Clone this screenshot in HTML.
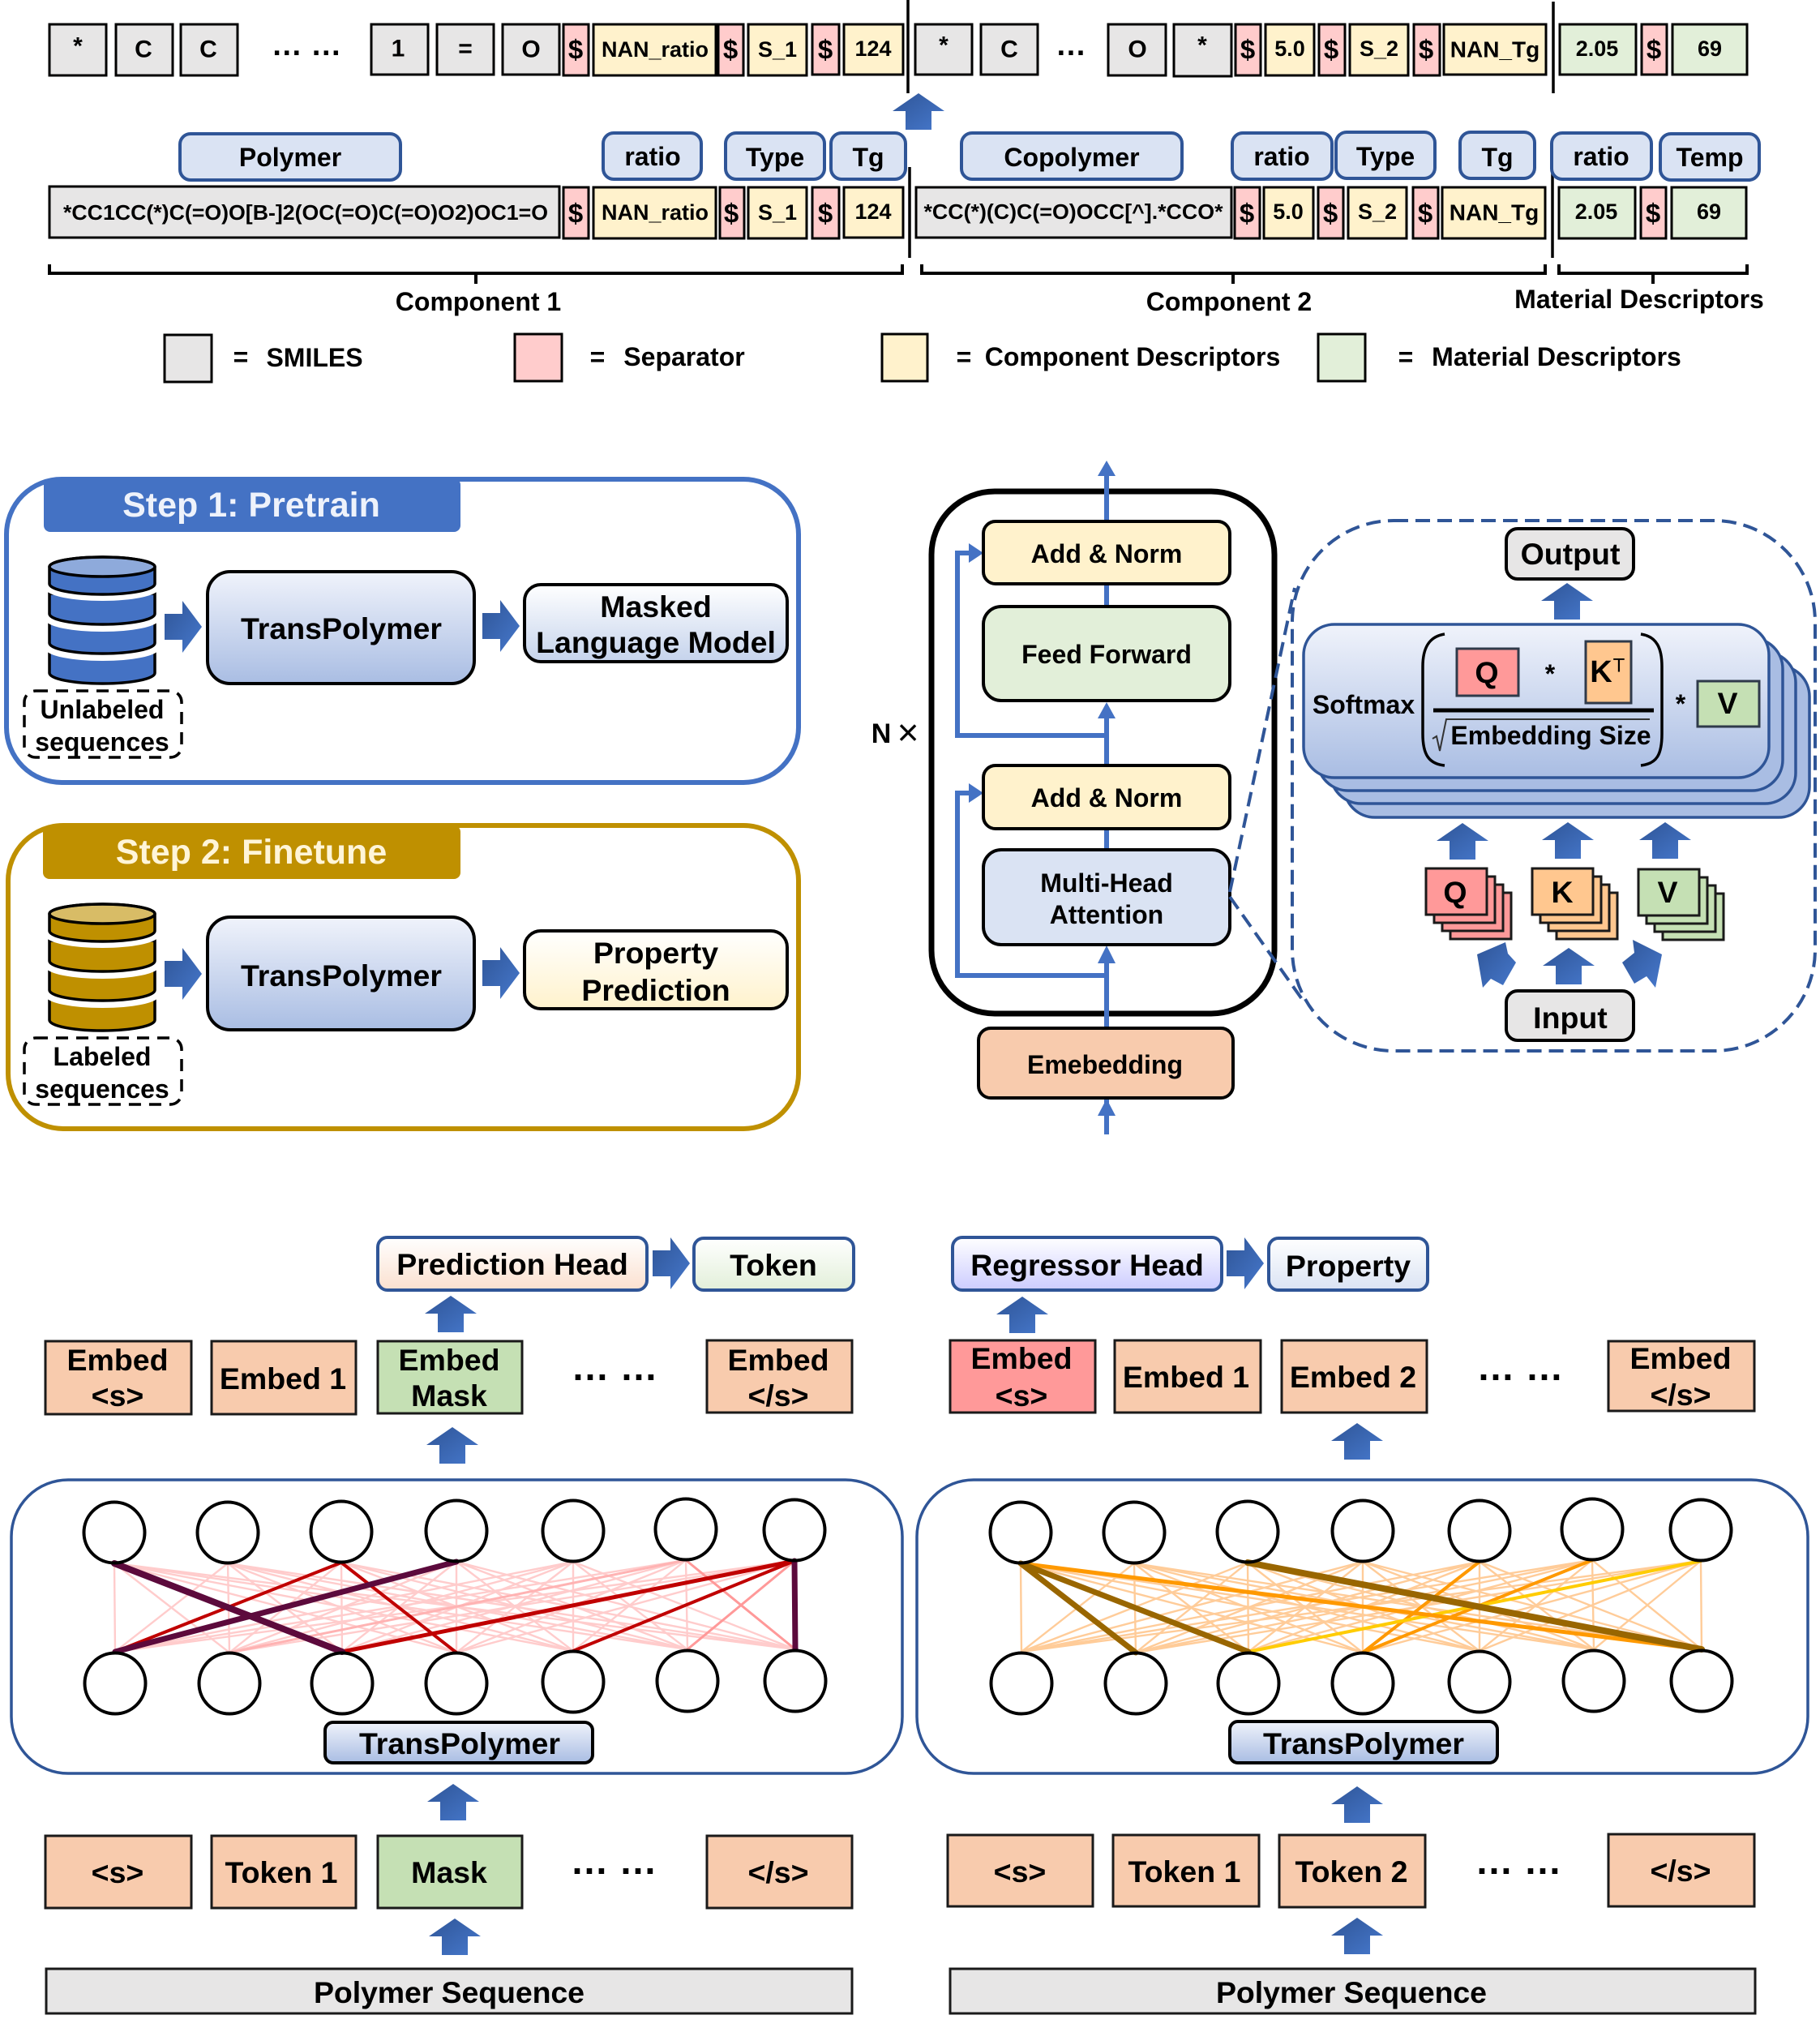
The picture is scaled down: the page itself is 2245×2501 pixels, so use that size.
<!DOCTYPE html>
<html><head><meta charset="utf-8">
<style>
html,body{margin:0;padding:0;background:#fff}
svg{display:block}
text{font-family:"Liberation Sans",sans-serif;font-weight:bold;fill:#000;text-anchor:middle;dominant-baseline:central}
.s26{font-size:27px}.s27{font-size:27px}.s30{font-size:30px}.s31{font-size:32px}.s33{font-size:33px}.s36{font-size:37.5px}.s37{font-size:37.5px}.s42{font-size:43px}.s47{font-size:47px}.s38{font-size:38px}
text.d{dominant-baseline:alphabetic}
.k rect{stroke:#000;stroke-width:3}
.g{fill:#e7e6e6}.p{fill:#ffcccc}.y{fill:#fff2cc}.n{fill:#e2efd9}
.c rect{fill:#dae3f3;stroke:#2f5597;stroke-width:4}
.e rect{fill:#f8cbad;stroke:#1a1a1a;stroke-width:3}
.l{fill:none;stroke:#4472c4;stroke-width:6}
.h{fill:#4472c4}
.br{fill:none;stroke:#000;stroke-width:4}
</style></head><body>
<svg width="2245" height="2501" viewBox="0 0 2245 2501" xmlns="http://www.w3.org/2000/svg">
<defs>
<linearGradient id="ag" x1="0" y1="0" x2="1" y2="1"><stop offset="0" stop-color="#2f5597"/><stop offset="1" stop-color="#4678cc"/></linearGradient>
<linearGradient id="gb" x1="0" y1="0" x2="0" y2="1"><stop offset="0" stop-color="#f0f3fb"/><stop offset="1" stop-color="#a9bde3"/></linearGradient>
<linearGradient id="gw" x1="0" y1="0" x2="0" y2="1"><stop offset="0" stop-color="#fff"/><stop offset="1" stop-color="#c5d3ec"/></linearGradient>
<linearGradient id="gy" x1="0" y1="0" x2="0" y2="1"><stop offset="0" stop-color="#fff"/><stop offset="1" stop-color="#fff2cc"/></linearGradient>
<linearGradient id="go" x1="0" y1="0" x2="0" y2="1"><stop offset="0" stop-color="#fff"/><stop offset="1" stop-color="#fbe0cf"/></linearGradient>
<linearGradient id="gg" x1="0" y1="0" x2="0" y2="1"><stop offset="0" stop-color="#fff"/><stop offset="1" stop-color="#e2efd9"/></linearGradient>
<linearGradient id="gv" x1="0" y1="0" x2="0" y2="1"><stop offset="0" stop-color="#fff"/><stop offset="1" stop-color="#ccccff"/></linearGradient>
<linearGradient id="gd" x1="0" y1="0" x2="0" y2="1"><stop offset="0" stop-color="#fff"/><stop offset="1" stop-color="#dae3f3"/></linearGradient>
<path id="up" d="M0 0L32 22H16V45H-16V22H-32Z" fill="url(#ag)"/>
<path id="ra" d="M0 -16H22V-32L46 0L22 32V16H0Z" fill="url(#ag)"/>
<g id="db">
<path d="M61 804V830A65 13 0 0 0 191 830V804Z" stroke="#000" stroke-width="3.5"/>
<path d="M61 768V793A65 13 0 0 0 191 793V768Z" stroke="#fff" stroke-width="18"/>
<path d="M61 768V793A65 13 0 0 0 191 793V768Z" stroke="#000" stroke-width="3.5"/>
<path d="M61 732V757A65 13 0 0 0 191 757V732Z" stroke="#fff" stroke-width="18"/>
<path d="M61 732V757A65 13 0 0 0 191 757V732Z" stroke="#000" stroke-width="3.5"/>
<path d="M61 699V720A65 13 0 0 0 191 720V699Z" stroke="#fff" stroke-width="16"/>
<path d="M61 699V720A65 13 0 0 0 191 720V699A65 12 0 0 0 61 699Z" stroke="#000" stroke-width="3.5"/>
<ellipse cx="126" cy="699" rx="65" ry="12" fill="#fff" fill-opacity=".4" stroke="#000" stroke-width="3.5"/>
</g>
<path id="net" fill="none" stroke-width="2.4" d="M141 1928L142 2037M141 1928L283 2038M141 1928L422 2037M141 1928L563 2038M141 1928L707 2036M141 1928L848 2034M141 1928L981 2034M281 1928L142 2037M281 1928L283 2038M281 1928L422 2037M281 1928L563 2038M281 1928L707 2036M281 1928L848 2034M281 1928L981 2034M421 1927L142 2037M421 1927L283 2038M421 1927L422 2037M421 1927L563 2038M421 1927L707 2036M421 1927L848 2034M421 1927L981 2034M563 1926L142 2037M563 1926L283 2038M563 1926L422 2037M563 1926L563 2038M563 1926L707 2036M563 1926L848 2034M563 1926L981 2034M707 1926L142 2037M707 1926L283 2038M707 1926L422 2037M707 1926L563 2038M707 1926L707 2036M707 1926L848 2034M707 1926L981 2034M846 1924L142 2037M846 1924L283 2038M846 1924L422 2037M846 1924L563 2038M846 1924L707 2036M846 1924L848 2034M846 1924L981 2034M980 1925L142 2037M980 1925L283 2038M980 1925L422 2037M980 1925L563 2038M980 1925L707 2036M980 1925L848 2034M980 1925L981 2034"/>
<g id="circ" fill="none" stroke="#000" stroke-width="4">
<circle cx="141" cy="1890" r="37.5"/><circle cx="281" cy="1890" r="37.5"/><circle cx="421" cy="1889" r="37.5"/><circle cx="563" cy="1888" r="37.5"/><circle cx="707" cy="1888" r="37.5"/><circle cx="846" cy="1886" r="37.5"/><circle cx="980" cy="1887" r="37.5"/>
<circle cx="142" cy="2076" r="37.5"/><circle cx="283" cy="2076" r="37.5"/><circle cx="422" cy="2076" r="37.5"/><circle cx="563" cy="2076" r="37.5"/><circle cx="707" cy="2074" r="37.5"/><circle cx="848" cy="2073" r="37.5"/><circle cx="981" cy="2073" r="37.5"/>
</g>
</defs>

<!-- Top row -->
<g class="k">
<rect class="g" x="61" y="30" width="70" height="63"/><rect class="g" x="143" y="30" width="70" height="63"/><rect class="g" x="223" y="30" width="70" height="63"/>
<rect class="g" x="458" y="30" width="70" height="62"/><rect class="g" x="539" y="30" width="70" height="62"/><rect class="g" x="620" y="30" width="70" height="62"/>
<rect class="p" x="695" y="30" width="31" height="63"/><rect class="y" x="732" y="30" width="151" height="63"/><rect class="p" x="886" y="30" width="31" height="63"/><rect class="y" x="923" y="30" width="72" height="63"/><rect class="p" x="1002" y="30" width="33" height="62"/><rect class="y" x="1041" y="30" width="73" height="62"/>
<rect class="g" x="1129" y="30" width="70" height="62"/><rect class="g" x="1210" y="30" width="70" height="62"/><rect class="g" x="1367" y="30" width="71" height="63"/><rect class="g" x="1448" y="30" width="71" height="64"/>
<rect class="p" x="1524" y="30" width="31" height="63"/><rect class="y" x="1561" y="30" width="60" height="63"/><rect class="p" x="1627" y="30" width="32" height="63"/><rect class="y" x="1665" y="30" width="72" height="63"/><rect class="p" x="1744" y="30" width="32" height="63"/><rect class="y" x="1781" y="30" width="126" height="62"/>
<rect class="n" x="1924" y="30" width="94" height="62"/><rect class="p" x="2025" y="30" width="31" height="62"/><rect class="n" x="2063" y="30" width="92" height="62"/>
</g>
<text class="s30" x="96" y="57">*</text><text class="s30" x="177" y="61">C</text><text class="s30" x="257" y="61">C</text>
<text class="s38 d" x="378" y="68">… …</text>
<text class="s30" x="491" y="60">1</text><text class="s30" x="574" y="60">=</text><text class="s30" x="655" y="61">O</text>
<text class="s33" x="710" y="61">$</text><text class="s26" x="808" y="61">NAN_ratio</text><text class="s33" x="901" y="61">$</text><text class="s26" x="959" y="61">S_1</text><text class="s33" x="1018" y="61">$</text><text class="s27" x="1077" y="60">124</text>
<text class="s30" x="1164" y="56">*</text><text class="s30" x="1245" y="61">C</text><text class="s38 d" x="1321" y="68">…</text><text class="s30" x="1403" y="61">O</text><text class="s30" x="1483" y="56">*</text>
<text class="s33" x="1539" y="61">$</text><text class="s27" x="1591" y="60">5.0</text><text class="s33" x="1642" y="61">$</text><text class="s26" x="1701" y="60">S_2</text><text class="s33" x="1759" y="61">$</text><text x="1844" y="61" style="font-size:28px">NAN_Tg</text>
<text class="s27" x="1970" y="60">2.05</text><text class="s33" x="2040" y="61">$</text><text class="s27" x="2109" y="60">69</text>
<g stroke="#000" stroke-width="3.5"><line x1="1120" y1="0" x2="1120" y2="115"/><line x1="1916" y1="2" x2="1916" y2="115"/><line x1="1122" y1="206" x2="1122" y2="318"/><line x1="1915" y1="206" x2="1915" y2="318"/></g>
<use href="#up" transform="translate(1133,115)"/>

<!-- Chips -->
<g class="c">
<rect x="222" y="165" width="272" height="57" rx="13"/><rect x="744" y="164" width="121" height="57" rx="13"/><rect x="895" y="164" width="122" height="57" rx="13"/><rect x="1025" y="164" width="92" height="57" rx="13"/>
<rect x="1186" y="164" width="272" height="57" rx="13"/><rect x="1520" y="164" width="123" height="57" rx="13"/><rect x="1648" y="163" width="122" height="57" rx="13"/><rect x="1801" y="163" width="92" height="57" rx="13"/><rect x="1914" y="164" width="123" height="57" rx="13"/><rect x="2048" y="165" width="122" height="57" rx="13"/>
</g>
<text class="s31" x="358" y="194">Polymer</text><text class="s31" x="805" y="193">ratio</text><text class="s31" x="956" y="194">Type</text><text class="s31" x="1071" y="194">Tg</text>
<text class="s31" x="1322" y="194">Copolymer</text><text class="s31" x="1581" y="193">ratio</text><text class="s31" x="1709" y="193">Type</text><text class="s31" x="1847" y="194">Tg</text><text class="s31" x="1975" y="193">ratio</text><text class="s31" x="2109" y="194">Temp</text>

<!-- Second row -->
<g class="k">
<rect class="g" x="61" y="230" width="629" height="63"/>
<rect class="p" x="695" y="231" width="31" height="63"/><rect class="y" x="732" y="231" width="151" height="63"/><rect class="p" x="888" y="231" width="30" height="63"/><rect class="y" x="923" y="231" width="72" height="63"/><rect class="p" x="1002" y="231" width="33" height="63"/><rect class="y" x="1041" y="231" width="73" height="62"/>
<rect class="g" x="1130" y="231" width="389" height="62"/>
<rect class="p" x="1523" y="231" width="31" height="63"/><rect class="y" x="1559" y="231" width="61" height="63"/><rect class="p" x="1626" y="231" width="31" height="63"/><rect class="y" x="1663" y="231" width="72" height="63"/><rect class="p" x="1743" y="231" width="31" height="63"/><rect class="y" x="1779" y="231" width="127" height="63"/>
<rect class="n" x="1923" y="231" width="94" height="63"/><rect class="p" x="2024" y="231" width="31" height="63"/><rect class="n" x="2062" y="231" width="92" height="63"/>
</g>
<text x="377" y="262" style="font-size:26px" textLength="598" lengthAdjust="spacingAndGlyphs">*CC1CC(*)C(=O)O[B-]2(OC(=O)C(=O)O2)OC1=O</text>
<text class="s33" x="710" y="263">$</text><text class="s26" x="808" y="262">NAN_ratio</text><text class="s33" x="902" y="263">$</text><text class="s26" x="959" y="262">S_1</text><text class="s33" x="1018" y="263">$</text><text class="s27" x="1077" y="261">124</text>
<text x="1324" y="261" style="font-size:26px" textLength="369" lengthAdjust="spacingAndGlyphs">*CC(*)(C)C(=O)OCC[^].*CCO*</text>
<text class="s33" x="1538" y="263">$</text><text class="s27" x="1589" y="261">5.0</text><text class="s33" x="1641" y="263">$</text><text class="s26" x="1699" y="261">S_2</text><text class="s33" x="1758" y="263">$</text><text x="1843" y="262" style="font-size:28px">NAN_Tg</text>
<text class="s27" x="1969" y="261">2.05</text><text class="s33" x="2039" y="263">$</text><text class="s27" x="2108" y="261">69</text>

<!-- Brackets -->
<path class="br" d="M61 326V337H1113V326M587 337V350"/>
<path class="br" d="M1137 326V337H1906V326M1521 337V350"/>
<path class="br" d="M1923 326V337H2155V326M2039 337V350"/>
<text class="s31" x="590" y="372">Component 1</text><text class="s31" x="1516" y="372">Component 2</text><text class="s31" x="2022" y="369">Material Descriptors</text>

<!-- Legend -->
<g class="k"><rect class="g" x="203" y="413" width="58" height="58"/><rect class="p" x="635" y="412" width="58" height="58"/><rect class="y" x="1088" y="412" width="56" height="58"/><rect class="n" x="1626" y="412" width="58" height="58"/></g>
<text class="s31" x="297" y="440">=</text><text class="s31" x="388" y="441">SMILES</text>
<text class="s31" x="737" y="440">=</text><text class="s31" x="844" y="440">Separator</text>
<text class="s31" x="1189" y="440">=</text><text class="s31" x="1397" y="440">Component Descriptors</text>
<text class="s31" x="1734" y="440">=</text><text class="s31" x="1920" y="440">Material Descriptors</text>

<!-- Step 1 -->
<rect x="8" y="591" width="977" height="374" rx="68" fill="none" stroke="#4472c4" stroke-width="6"/>
<rect x="54" y="590" width="514" height="66" rx="8" fill="#4472c4"/>
<text class="s42" x="310" y="623" style="fill:#eef2fb">Step 1: Pretrain</text>
<use href="#db" fill="#4472c4"/>
<rect x="30" y="852" width="194" height="82" rx="14" fill="none" stroke="#000" stroke-width="3.5" stroke-dasharray="15 10"/>
<text class="s31" x="126" y="875">Unlabeled</text><text class="s31" x="126" y="915">sequences</text>
<use href="#ra" transform="translate(203,773)"/>
<rect x="256" y="705" width="329" height="138" rx="28" fill="url(#gb)" stroke="#000" stroke-width="4"/>
<text class="s37" x="421" y="775">TransPolymer</text>
<use href="#ra" transform="translate(595,772)"/>
<rect x="647" y="721" width="324" height="95" rx="20" fill="url(#gw)" stroke="#000" stroke-width="4"/>
<text class="s37" x="809" y="748">Masked</text><text class="s37" x="809" y="792">Language Model</text>

<!-- Step 2 -->
<rect x="10" y="1018" width="975" height="374" rx="68" fill="none" stroke="#bf9000" stroke-width="6"/>
<rect x="53" y="1018" width="515" height="66" rx="8" fill="#bf9000"/>
<text class="s42" x="310" y="1051" style="fill:#fff5d8">Step 2: Finetune</text>
<use href="#db" fill="#bf9000" transform="translate(0,428)"/>
<rect x="30" y="1280" width="194" height="82" rx="14" fill="none" stroke="#000" stroke-width="3.5" stroke-dasharray="15 10"/>
<text class="s31" x="126" y="1303">Labeled</text><text class="s31" x="126" y="1343">sequences</text>
<use href="#ra" transform="translate(203,1201)"/>
<rect x="256" y="1131" width="329" height="139" rx="28" fill="url(#gb)" stroke="#000" stroke-width="4"/>
<text class="s37" x="421" y="1203">TransPolymer</text>
<use href="#ra" transform="translate(595,1200)"/>
<rect x="647" y="1148" width="324" height="96" rx="20" fill="url(#gy)" stroke="#000" stroke-width="4"/>
<text class="s37" x="809" y="1175">Property</text><text class="s37" x="809" y="1221">Prediction</text>

<!-- Encoder -->
<rect x="1149" y="606" width="423" height="644" rx="78" fill="none" stroke="#000" stroke-width="7"/>
<path class="l" d="M1365 585V645M1365 720V748M1365 880V944M1365 1022V1048M1365 1185V1268M1365 1355V1399"/>
<path class="l" d="M1365 907H1181V682H1198M1365 1203H1181V978H1198"/>
<path class="h" d="M1365 568L1376 587H1354ZM1365 866L1376 886H1354ZM1365 1166L1376 1188H1354ZM1365 1355L1376 1376H1354ZM1213 682L1195 670V694ZM1213 978L1195 966V990Z"/>
<g stroke="#000" stroke-width="4">
<rect x="1213" y="643" width="304" height="77" rx="15" fill="#fff2cc"/>
<rect x="1213" y="748" width="304" height="116" rx="22" fill="#e2efd9"/>
<rect x="1213" y="944" width="304" height="78" rx="15" fill="#fff2cc"/>
<rect x="1213" y="1048" width="304" height="117" rx="22" fill="#dae3f3"/>
<rect x="1207" y="1268" width="314" height="86" rx="15" fill="#f8cbad"/>
</g>
<text class="s31" x="1365" y="683">Add &amp; Norm</text><text class="s31" x="1365" y="807">Feed Forward</text><text class="s31" x="1365" y="984">Add &amp; Norm</text>
<text class="s31" x="1365" y="1089">Multi-Head</text><text class="s31" x="1365" y="1128">Attention</text><text class="s31" x="1363" y="1313">Emebedding</text>
<text x="1087" y="905" style="font-size:34px">N</text><text x="1120" y="903" style="font-size:46px;font-weight:normal">×</text>

<!-- Attention panel -->
<rect x="1594" y="642" width="645" height="654" rx="125" fill="none" stroke="#2f5597" stroke-width="4" stroke-dasharray="18 9"/>
<path d="M1517 1100L1597 725M1517 1106L1608 1235" fill="none" stroke="#2f5597" stroke-width="4" stroke-dasharray="18 9"/>
<rect x="1858" y="652" width="157" height="62" rx="14" fill="#e7e6e6" stroke="#000" stroke-width="4"/>
<text class="s36" x="1937" y="683">Output</text>
<use href="#up" transform="translate(1933,719)"/>
<g stroke="#2f5597" stroke-width="3.5" fill="#a9bde3">
<rect x="1658" y="821" width="574" height="187" rx="38"/>
<rect x="1641" y="804" width="574" height="187" rx="38"/>
<rect x="1625" y="787" width="574" height="188" rx="38"/>
<rect x="1608" y="770" width="574" height="189" rx="38" fill="url(#gb)"/>
</g>
<text class="s31" x="1682" y="869">Softmax</text>
<path d="M1782 782C1762 785 1755 800 1755 822V905C1755 930 1762 942 1782 944M2024 782C2044 785 2050 800 2050 822V905C2050 930 2044 942 2024 944" fill="none" stroke="#000" stroke-width="3.5"/>
<rect x="1797" y="800" width="76" height="58" fill="#ff9999" stroke="#2f3a4a" stroke-width="3"/>
<text class="s36" x="1834" y="829">Q</text>
<text class="s31" x="1912" y="831">*</text>
<rect x="1956" y="791" width="56" height="76" fill="#ffc78f" stroke="#2f3a4a" stroke-width="3"/>
<text class="s38" x="1975" y="829">K</text><text x="1997" y="821" style="font-size:24px;font-weight:normal">T</text>
<line x1="1768" y1="876" x2="2040" y2="876" stroke="#000" stroke-width="5"/>
<path d="M1767 911L1772 908L1776 926L1784 887H2035" fill="none" stroke="#333" stroke-width="2"/>
<text class="s31" x="1913" y="907">Embedding Size</text>
<text class="s31" x="2073" y="868">*</text>
<rect x="2094" y="840" width="76" height="56" fill="#c5e0b4" stroke="#2f3a4a" stroke-width="3"/>
<text class="s36" x="2131" y="867">V</text>
<use href="#up" transform="translate(1804,1015)"/><use href="#up" transform="translate(1934,1014)"/><use href="#up" transform="translate(2054,1014)"/>
<g stroke="#1a1a1a" stroke-width="3">
<g fill="#ff9999"><rect x="1789" y="1101" width="75" height="57"/><rect x="1779" y="1091" width="75" height="57"/><rect x="1769" y="1081" width="75" height="57"/><rect x="1759" y="1071" width="75" height="57"/></g>
<g fill="#ffc78f"><rect x="1920" y="1101" width="75" height="57"/><rect x="1910" y="1091" width="75" height="57"/><rect x="1900" y="1081" width="75" height="57"/><rect x="1890" y="1071" width="75" height="57"/></g>
<g fill="#c5e0b4"><rect x="2051" y="1102" width="75" height="57"/><rect x="2041" y="1092" width="75" height="57"/><rect x="2031" y="1082" width="75" height="57"/><rect x="2021" y="1072" width="75" height="57"/></g>
</g>
<text class="s36" x="1795" y="1100">Q</text><text class="s36" x="1927" y="1100">K</text><text class="s36" x="2057" y="1100">V</text>
<path fill="url(#ag)" d="M1822 1177L1857 1162L1860 1176L1870 1187L1854 1215L1839 1207L1829 1218Z"/>
<use href="#up" transform="translate(1935,1169)"/>
<path fill="url(#ag)" d="M2050 1177L2014 1159L2016 1175L2001 1187L2016 1213L2031 1204L2042 1218Z"/>
<rect x="1858" y="1222" width="157" height="61" rx="14" fill="#e7e6e6" stroke="#000" stroke-width="4"/>
<text class="s36" x="1937" y="1255">Input</text>

<!-- Bottom left -->
<rect x="466" y="1526" width="332" height="65" rx="12" fill="url(#go)" stroke="#2f5597" stroke-width="4"/>
<text class="s37" x="632" y="1559">Prediction Head</text>
<use href="#ra" transform="translate(805,1558)"/>
<rect x="856" y="1527" width="197" height="64" rx="12" fill="url(#gg)" stroke="#2f5597" stroke-width="4"/>
<text class="s37" x="954" y="1560">Token</text>
<use href="#up" transform="translate(556,1598)"/>
<g class="e">
<rect x="56" y="1654" width="180" height="90"/><rect x="261" y="1654" width="178" height="90"/><rect x="466" y="1654" width="178" height="89" style="fill:#c5e0b4"/><rect x="872" y="1653" width="179" height="89"/>
</g>
<text class="s36" x="145" y="1677">Embed</text><text class="s36" x="145" y="1721">&lt;s&gt;</text><text class="s36" x="349" y="1700">Embed 1</text>
<text class="s36" x="554" y="1677">Embed</text><text class="s36" x="554" y="1721">Mask</text>
<text class="s36" x="960" y="1677">Embed</text><text class="s36" x="960" y="1721">&lt;/s&gt;</text>
<text class="s47 d" x="758" y="1702">… …</text>
<use href="#up" transform="translate(558,1760)"/>
<rect x="14" y="1825" width="1099" height="362" rx="70" fill="#fff" stroke="#2f5597" stroke-width="3.5"/>
<use href="#net" stroke="#ffcccc"/>
<g fill="none" stroke-linecap="round">
<path d="M846 1924L283 2038" stroke="#ffb3b3" stroke-width="3"/>
<path d="M846 1924L981 2034M980 1925L848 2034" stroke="#ff9999" stroke-width="3"/>
<path d="M421 1927L142 2037M421 1927L563 2038M980 1925L707 2036" stroke="#c00000" stroke-width="4"/>
<path d="M980 1925L422 2037" stroke="#c00000" stroke-width="5"/>
<path d="M141 1928L422 2037" stroke="#5c0a3c" stroke-width="8"/>
<path d="M563 1926L142 2037M980 1925L981 2034" stroke="#5c0a3c" stroke-width="7"/>
</g>
<use href="#circ"/>
<rect x="401" y="2124" width="330" height="50" rx="10" fill="url(#gb)" stroke="#000" stroke-width="4"/>
<text class="s36" x="567" y="2150">TransPolymer</text>
<use href="#up" transform="translate(559,2200)"/>
<g class="e">
<rect x="56" y="2264" width="180" height="89"/><rect x="261" y="2264" width="178" height="89"/><rect x="466" y="2264" width="178" height="89" style="fill:#c5e0b4"/><rect x="872" y="2264" width="179" height="89"/>
</g>
<text class="s36" x="145" y="2309">&lt;s&gt;</text><text class="s36" x="347" y="2309">Token 1</text><text class="s36" x="554" y="2309">Mask</text><text class="s36" x="960" y="2309">&lt;/s&gt;</text>
<text class="s47 d" x="757" y="2311">… …</text>
<use href="#up" transform="translate(561,2366)"/>
<rect x="57" y="2428" width="994" height="55" fill="#e7e6e6" stroke="#1a1a1a" stroke-width="3"/>
<text class="s36" x="554" y="2457" textLength="334" lengthAdjust="spacing">Polymer Sequence</text>

<!-- Bottom right -->
<rect x="1175" y="1526" width="332" height="65" rx="12" fill="url(#gv)" stroke="#2f5597" stroke-width="4"/>
<text class="s36" x="1341" y="1560">Regressor Head</text>
<use href="#ra" transform="translate(1513,1558)"/>
<rect x="1565" y="1527" width="196" height="64" rx="12" fill="url(#gd)" stroke="#2f5597" stroke-width="4"/>
<text class="s36" x="1663" y="1561">Property</text>
<use href="#up" transform="translate(1261,1599)"/>
<g class="e">
<rect x="1172" y="1653" width="179" height="89" style="fill:#ff9999"/><rect x="1375" y="1653" width="180" height="89"/><rect x="1581" y="1653" width="179" height="89"/><rect x="1984" y="1654" width="180" height="86"/>
</g>
<text class="s36" x="1260" y="1675">Embed</text><text class="s36" x="1260" y="1721">&lt;s&gt;</text><text class="s36" x="1463" y="1698">Embed 1</text><text class="s36" x="1669" y="1698">Embed 2</text><text class="s36" x="2073" y="1675">Embed</text><text class="s36" x="2073" y="1720">&lt;/s&gt;</text>
<text class="s47 d" x="1875" y="1702">… …</text>
<use href="#up" transform="translate(1674,1755)"/>
<rect x="1131" y="1825" width="1099" height="362" rx="70" fill="#fff" stroke="#2f5597" stroke-width="3.5"/>
<g transform="translate(1118,0)">
<use href="#net" stroke="#ffcc99"/>
<g fill="none" stroke-linecap="round">
<path d="M707 1926L563 2038M846 1924L563 2038" stroke="#ff9900" stroke-width="4"/>
<path d="M980 1925L422 2037" stroke="#ffcc00" stroke-width="4"/>
<path d="M141 1928L981 2034" stroke="#ff9900" stroke-width="5"/>
<path d="M141 1928L283 2038M141 1928L422 2037" stroke="#996600" stroke-width="7"/>
<path d="M421 1927L981 2034" stroke="#996600" stroke-width="8"/>
</g>
<use href="#circ"/>
</g>
<rect x="1517" y="2123" width="330" height="51" rx="10" fill="url(#gb)" stroke="#000" stroke-width="4"/>
<text class="s36" x="1682" y="2150">TransPolymer</text>
<use href="#up" transform="translate(1674,2203)"/>
<g class="e">
<rect x="1169" y="2263" width="179" height="88"/><rect x="1373" y="2263" width="180" height="88"/><rect x="1578" y="2263" width="180" height="89"/><rect x="1984" y="2262" width="180" height="89"/>
</g>
<text class="s36" x="1258" y="2308">&lt;s&gt;</text><text class="s36" x="1461" y="2308">Token 1</text><text class="s36" x="1667" y="2308">Token 2</text><text class="s36" x="2073" y="2307">&lt;/s&gt;</text>
<text class="s47 d" x="1873" y="2311">… …</text>
<use href="#up" transform="translate(1674,2365)"/>
<rect x="1172" y="2428" width="993" height="55" fill="#e7e6e6" stroke="#1a1a1a" stroke-width="3"/>
<text class="s36" x="1667" y="2457" textLength="334" lengthAdjust="spacing">Polymer Sequence</text>
</svg>
</body></html>
